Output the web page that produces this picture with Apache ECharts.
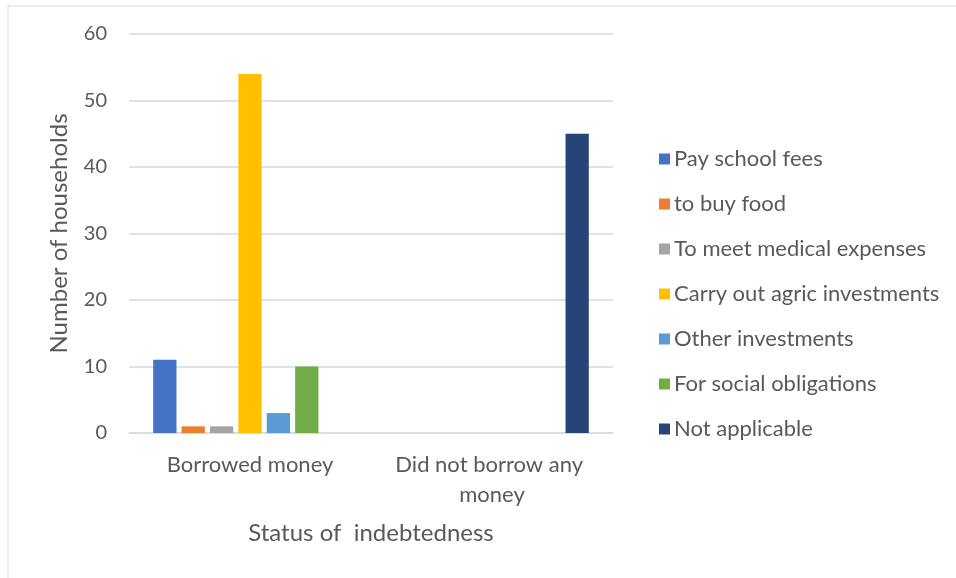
<!DOCTYPE html>
<html>
<head>
<meta charset="utf-8">
<script src="https://cdn.jsdelivr.net/npm/echarts@6/dist/echarts.min.js"></script>
<style>
  html, body { margin: 0; padding: 0; background: #fff; }
  #chart { width: 956px; height: 578px; }
</style>
</head>
<body>
<div id="chart"></div>
<script>
const categories = ['Borrowed money', 'Did not borrow any money']
const seriesNames = [
  'Pay school fees',
  'to buy food',
  'To meet medical expenses',
  'Carry out agric investments',
  'Other investments',
  'For social obligations',
  'Not applicable'
]
const payFees = [11, 0]
const buyFood = [1, 0]
const medical = [1, 0]
const agric = [54, 0]
const otherInv = [3, 0]
const social = [10, 0]
const notApplicable = [0, 45]
const colors = ['#4472C4', '#ED7D31', '#A5A5A5', '#FFC000', '#5B9BD5', '#70AD47', '#264478']

const values = [payFees, buyFood, medical, agric, otherInv, social, notApplicable]
const font = 'Lato, "Open Sans", sans-serif'
const textColor = '#595959'

const chart = echarts.init(document.getElementById('chart'))
chart.setOption({
  animation: false,
  color: colors,
  textStyle: { fontFamily: font },
  graphic: [{
    type: 'rect',
    shape: { x: 8, y: 6, width: 1000, height: 1000 },
    style: { fill: 'none', stroke: '#d9d9d9', lineWidth: 1 },
    silent: true
  }],
  grid: { left: 129, right: 343, top: 34, bottom: 145 },
  legend: {
    orient: 'vertical',
    left: 654,
    top: 143,
    itemWidth: 11,
    itemHeight: 11,
    itemGap: 23,
    icon: 'rect',
    data: seriesNames,
    textStyle: { color: textColor, fontSize: 22, fontFamily: font, padding: [0, 0, 0, -1] }
  },
  xAxis: {
    type: 'category',
    data: categories,
    name: 'Status of  indebtedness',
    nameLocation: 'middle',
    nameGap: 88,
    nameTextStyle: { color: textColor, fontSize: 24, fontFamily: font },
    axisLine: { lineStyle: { color: '#d9d9d9', width: 1.5 } },
    axisTick: { show: false },
    axisLabel: {
      interval: 0,
      color: textColor,
      fontSize: 22,
      fontFamily: font,
      margin: 17,
      width: 220,
      overflow: 'break',
      lineHeight: 30
    }
  },
  yAxis: {
    type: 'value',
    min: 0,
    max: 60,
    interval: 10,
    name: 'Number of households',
    nameLocation: 'middle',
    nameGap: 58,
    nameTextStyle: { color: textColor, fontSize: 24, fontFamily: font },
    axisLine: { show: false },
    axisTick: { show: false },
    axisLabel: { color: textColor, fontSize: 20, fontFamily: font, margin: 22 },
    splitLine: { lineStyle: { color: '#d9d9d9', width: 1.5 } }
  },
  series: seriesNames.map((name, i) => ({
    name: name,
    type: 'bar',
    data: values[i],
    barGap: '22%',
    barCategoryGap: '20%'
  }))
})
</script>
</body>
</html>
